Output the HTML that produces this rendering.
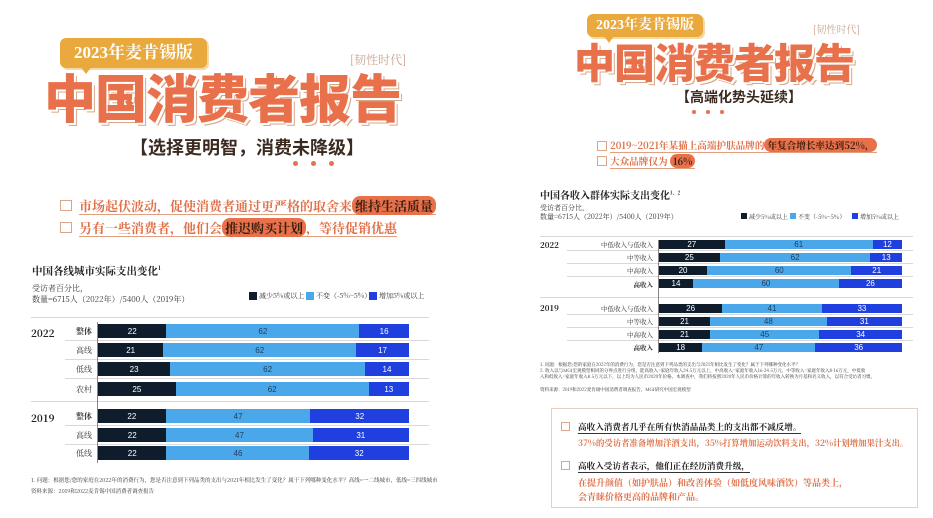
<!DOCTYPE html>
<html><head><meta charset="utf-8"><style>
*{margin:0;padding:0;box-sizing:border-box}
body{width:933px;height:518px;background:#fff;position:relative;overflow:hidden;font-family:"Liberation Sans","Noto Sans CJK SC",sans-serif}
.a{position:absolute;white-space:nowrap}
.badge{background:#e9a93c;color:#fff;font-family:"Liberation Serif","Noto Serif CJK SC",serif;font-weight:bold;border-radius:6px;text-align:center;box-shadow:2px 2px 0 #f3d9a6}
.big{color:#e8704a;font-family:"Noto Sans CJK SC",sans-serif;font-weight:900;text-shadow:2px 2px 0 #fff,3px 3px 0 #d9a688;letter-spacing:-1px}
.tag{color:#c9a491;font-family:"Noto Serif CJK SC",serif}
.sub{color:#3b2a20;font-weight:bold;font-family:"Noto Sans CJK SC",sans-serif}
.dot{position:absolute;width:5px;height:5px;border-radius:50%;background:#e8704a}
.cb{position:absolute;border:1.2px solid #d9a688;background:#fff}
.bul{color:#e07048;font-weight:bold;font-family:"Noto Serif CJK SC",serif;border-bottom:1px solid #e0a080}
.hl{background:#e8704a;color:#3b2010;border-radius:8px;padding:0 3px}
.ct{font-family:"Noto Serif CJK SC",serif;font-weight:bold;color:#222}
.sm{font-family:"Noto Serif CJK SC",serif;color:#333}
.bar{position:absolute;display:flex}
.bar div{display:flex;align-items:center;justify-content:center;font-size:8px}
.d{background:#0f1c2c;color:#fff}.l{background:#4aa8ea;color:#233d5a}.b{background:#1f3fde;color:#fff}
.hr{position:absolute;height:1px;background:#d8d8d8}
.lg{position:absolute;width:8px;height:8px}
</style></head><body>

<!-- LEFT -->
<div class="a badge" style="left:60px;top:38px;width:147px;height:30px;font-size:17px;line-height:30px">2023年麦肯锡版</div>
<div class="a" style="left:80px;top:66px;width:0;height:0;border-left:6px solid transparent;border-right:6px solid transparent;border-top:8px solid #e9a93c"></div>
<div class="a tag" style="left:350px;top:51px;font-size:12px">[韧性时代]</div>
<div class="a big" style="left:44px;top:68px;font-size:52px;line-height:56px">中国消费者报告</div>
<div class="a sub" style="left:130px;top:136px;font-size:18px;line-height:22px">【选择更明智，消费未降级】</div>
<div class="dot" style="left:293px;top:161px"></div><div class="dot" style="left:311px;top:161px"></div><div class="dot" style="left:329px;top:161px"></div>
<div class="cb" style="left:60px;top:200px;width:12px;height:11px"></div>
<div class="a bul" style="left:79px;top:197px;font-size:13px;line-height:17px">市场起伏波动，促使消费者通过更严格的取舍来<span class="hl">维持生活质量</span></div>
<div class="cb" style="left:60px;top:222px;width:12px;height:11px"></div>
<div class="a bul" style="left:79px;top:219px;font-size:13px;line-height:17px">另有一些消费者，他们会<span class="hl">推迟购买计划</span>，等待促销优惠</div>

<div class="a ct" style="left:32px;top:263px;font-size:10.5px">中国各线城市实际支出变化<sup style="font-size:6px">1</sup></div>
<div class="a sm" style="left:32px;top:283px;font-size:8px;line-height:11px">受访者百分比，<br>数量=6715人（2022年）/5400人（2019年）</div>
<div class="lg" style="left:249px;top:292px;background:#0f1c2c"></div><div class="a sm" style="left:259px;top:291px;font-size:7px">减少5%或以上</div>
<div class="lg" style="left:306px;top:292px;background:#4aa8ea"></div><div class="a sm" style="left:316px;top:291px;font-size:7px">不变（-5%~5%）</div>
<div class="lg" style="left:369px;top:292px;background:#1f3fde"></div><div class="a sm" style="left:379px;top:291px;font-size:7px">增加5%或以上</div>
<div class="hr" style="left:31px;top:317px;width:398px"></div>
<div class="hr" style="left:65px;top:340px;width:364px"></div>
<div class="hr" style="left:65px;top:359px;width:364px"></div>
<div class="hr" style="left:65px;top:378px;width:364px"></div>
<div class="hr" style="left:31px;top:401px;width:398px"></div>
<div class="hr" style="left:65px;top:425px;width:364px"></div>
<div class="hr" style="left:65px;top:444px;width:364px"></div>
<div class="a" style="left:97px;top:322px;width:1px;height:141px;background:#888"></div>
<div class="a ct" style="left:31px;top:325px;font-size:10px">2022</div>
<div class="a ct" style="left:31px;top:410px;font-size:10px">2019</div>
<div class="a sm" style="left:72px;top:326px;font-size:8px;width:20px;text-align:right;font-weight:bold">整体</div>
<div class="a sm" style="left:72px;top:345px;font-size:8px;width:20px;text-align:right">高线</div>
<div class="a sm" style="left:72px;top:364px;font-size:8px;width:20px;text-align:right">低线</div>
<div class="a sm" style="left:72px;top:384px;font-size:8px;width:20px;text-align:right">农村</div>
<div class="a sm" style="left:72px;top:411px;font-size:8px;width:20px;text-align:right;font-weight:bold">整体</div>
<div class="a sm" style="left:72px;top:430px;font-size:8px;width:20px;text-align:right">高线</div>
<div class="a sm" style="left:72px;top:448px;font-size:8px;width:20px;text-align:right">低线</div>
<div class="bar" style="left:98px;top:324px;width:311px;height:14px"><div class="d" style="flex:22">22</div><div class="l" style="flex:62">62</div><div class="b" style="flex:16">16</div></div>
<div class="bar" style="left:98px;top:343px;width:311px;height:14px"><div class="d" style="flex:21">21</div><div class="l" style="flex:62">62</div><div class="b" style="flex:17">17</div></div>
<div class="bar" style="left:98px;top:362px;width:311px;height:14px"><div class="d" style="flex:23">23</div><div class="l" style="flex:62">62</div><div class="b" style="flex:14">14</div></div>
<div class="bar" style="left:98px;top:382px;width:311px;height:14px"><div class="d" style="flex:25">25</div><div class="l" style="flex:62">62</div><div class="b" style="flex:13">13</div></div>
<div class="bar" style="left:98px;top:409px;width:311px;height:14px"><div class="d" style="flex:22">22</div><div class="l" style="flex:47">47</div><div class="b" style="flex:32">32</div></div>
<div class="bar" style="left:98px;top:428px;width:311px;height:14px"><div class="d" style="flex:22">22</div><div class="l" style="flex:47">47</div><div class="b" style="flex:31">31</div></div>
<div class="bar" style="left:98px;top:446px;width:311px;height:14px"><div class="d" style="flex:22">22</div><div class="l" style="flex:46">46</div><div class="b" style="flex:32">32</div></div>
<div class="a sm" style="left:31px;top:476px;font-size:5.5px">1. 问题：根据您/您的家庭在2022年的消费行为，您是否注意到下列品类的支出与2021年相比发生了变化？属于下列哪种变化水平？高线=一二线城市，低线=三四线城市</div>
<div class="a sm" style="left:31px;top:487px;font-size:5.5px">资料来源：2019和2022麦肯锡中国消费者调查报告</div>

<!-- RIGHT -->
<div class="a badge" style="left:587px;top:14px;width:116px;height:23px;font-size:14px;line-height:23px">2023年麦肯锡版</div>
<div class="a" style="left:604px;top:36px;width:0;height:0;border-left:5px solid transparent;border-right:5px solid transparent;border-top:7px solid #e9a93c"></div>
<div class="a tag" style="left:813px;top:21px;font-size:10px">[韧性时代]</div>
<div class="a big" style="left:574px;top:37px;font-size:41px;line-height:46px">中国消费者报告</div>
<div class="a sub" style="left:676px;top:88px;font-size:14px;line-height:18px">【高端化势头延续】</div>
<div class="dot" style="left:692px;top:110px;width:4px;height:4px"></div><div class="dot" style="left:706px;top:110px;width:4px;height:4px"></div><div class="dot" style="left:720px;top:110px;width:4px;height:4px"></div>
<div class="cb" style="left:597px;top:141px;width:10px;height:10px"></div>
<div class="a bul" style="left:610px;top:138px;font-size:9.6px;line-height:14px">2019~2021年某猫上高端护肤品牌的<span class="hl">年复合增长率达到52%，</span></div>
<div class="cb" style="left:597px;top:156px;width:10px;height:10px"></div>
<div class="a bul" style="left:610px;top:154px;font-size:9.6px;line-height:14px">大众品牌仅为 <span class="hl">16%</span></div>

<div class="a ct" style="left:540px;top:187px;font-size:10px">中国各收入群体实际支出变化<sup style="font-size:5px">1、2</sup></div>
<div class="a sm" style="left:540px;top:204px;font-size:7px;line-height:9px">受访者百分比，<br>数量=6715人（2022年）/5400人（2019年）</div>
<div class="lg" style="left:741px;top:213px;width:6px;height:6px;background:#0f1c2c"></div><div class="a sm" style="left:749px;top:212px;font-size:6px">减少5%或以上</div>
<div class="lg" style="left:790px;top:213px;width:6px;height:6px;background:#4aa8ea"></div><div class="a sm" style="left:798px;top:212px;font-size:6px">不变（-5%~5%）</div>
<div class="lg" style="left:852px;top:213px;width:6px;height:6px;background:#1f3fde"></div><div class="a sm" style="left:860px;top:212px;font-size:6px">增加5%或以上</div>
<div class="hr" style="left:540px;top:236px;width:373px"></div>
<div class="hr" style="left:567px;top:250px;width:346px"></div>
<div class="hr" style="left:567px;top:263px;width:346px"></div>
<div class="hr" style="left:567px;top:276px;width:346px"></div>
<div class="hr" style="left:540px;top:297px;width:373px"></div>
<div class="hr" style="left:567px;top:314px;width:346px"></div>
<div class="hr" style="left:567px;top:327px;width:346px"></div>
<div class="hr" style="left:567px;top:340px;width:346px"></div>
<div class="a" style="left:658px;top:240px;width:1px;height:113px;background:#888"></div>
<div class="a ct" style="left:540px;top:240px;font-size:8px">2022</div>
<div class="a ct" style="left:540px;top:303px;font-size:8px">2019</div>
<div class="a sm" style="left:593px;top:240px;width:60px;text-align:right;font-size:6.5px">中低收入与低收入</div>
<div class="a sm" style="left:593px;top:253px;width:60px;text-align:right;font-size:6.5px">中等收入</div>
<div class="a sm" style="left:593px;top:266px;width:60px;text-align:right;font-size:6.5px">中高收入</div>
<div class="a sm" style="left:593px;top:280px;width:60px;text-align:right;font-size:6.5px;font-weight:bold">高收入</div>
<div class="a sm" style="left:593px;top:304px;width:60px;text-align:right;font-size:6.5px">中低收入与低收入</div>
<div class="a sm" style="left:593px;top:317px;width:60px;text-align:right;font-size:6.5px">中等收入</div>
<div class="a sm" style="left:593px;top:330px;width:60px;text-align:right;font-size:6.5px">中高收入</div>
<div class="a sm" style="left:593px;top:343px;width:60px;text-align:right;font-size:6.5px;font-weight:bold">高收入</div>
<div class="bar" style="left:659px;top:240px;width:243px;height:9px"><div class="d" style="flex:27">27</div><div class="l" style="flex:61">61</div><div class="b" style="flex:12">12</div></div>
<div class="bar" style="left:659px;top:253px;width:243px;height:9px"><div class="d" style="flex:25">25</div><div class="l" style="flex:62">62</div><div class="b" style="flex:13">13</div></div>
<div class="bar" style="left:659px;top:266px;width:243px;height:9px"><div class="d" style="flex:20">20</div><div class="l" style="flex:60">60</div><div class="b" style="flex:21">21</div></div>
<div class="bar" style="left:659px;top:279px;width:243px;height:9px"><div class="d" style="flex:14">14</div><div class="l" style="flex:60">60</div><div class="b" style="flex:26">26</div></div>
<div class="bar" style="left:659px;top:304px;width:243px;height:9px"><div class="d" style="flex:26">26</div><div class="l" style="flex:41">41</div><div class="b" style="flex:33">33</div></div>
<div class="bar" style="left:659px;top:317px;width:243px;height:9px"><div class="d" style="flex:21">21</div><div class="l" style="flex:48">48</div><div class="b" style="flex:31">31</div></div>
<div class="bar" style="left:659px;top:330px;width:243px;height:9px"><div class="d" style="flex:21">21</div><div class="l" style="flex:45">45</div><div class="b" style="flex:34">34</div></div>
<div class="bar" style="left:659px;top:343px;width:243px;height:9px"><div class="d" style="flex:18">18</div><div class="l" style="flex:47">47</div><div class="b" style="flex:36">36</div></div>
<div class="a sm" style="left:540px;top:362px;font-size:4.5px;line-height:6px">1. 问题：根据您/您的家庭在2022年的消费行为，您是否注意到下列品类的支出与2021年相比发生了变化？属于下列哪种变化水平？<br>2. 收入以与MGI宏观模型相同的分界点进行分组，能高收入=家庭年收入34.5万元以上，中高收入=家庭年收入16-34.5万元，中等收入=家庭年收入8-16万元，中低收<br>入和低收入=家庭年收入8.5万元以下，以上均为人民币2020年价格。本调查中，我们将按照2020年人民币价格计算的年收入转换为月基和名义收入，以符合受访者习惯。</div>
<div class="a sm" style="left:540px;top:387px;font-size:4.5px">资料来源：2019和2022麦肯锡中国消费者调查报告，MGI研究中国宏观模型</div>

<div class="a" style="left:551px;top:408px;width:367px;height:100px;border:1.5px solid #e6d0c2"></div>
<div class="cb" style="left:561px;top:422px;width:9px;height:9px"></div>
<div class="a" style="left:578px;top:421px;font-size:8.6px;font-weight:bold;color:#222;font-family:'Noto Serif CJK SC',serif;border-bottom:1px solid #333;line-height:12px">高收入消费者几乎在所有快消品品类上的支出都不减反增。</div>
<div class="a" style="left:578px;top:437px;font-size:8.4px;font-weight:bold;color:#e07048;font-family:'Noto Serif CJK SC',serif">37%的受访者准备增加洋酒支出，35%打算增加运动饮料支出，32%计划增加果汁支出。</div>
<div class="cb" style="left:561px;top:461px;width:9px;height:9px"></div>
<div class="a" style="left:578px;top:460px;font-size:8.6px;font-weight:bold;color:#222;font-family:'Noto Serif CJK SC',serif;border-bottom:1px solid #333;line-height:12px">高收入受访者表示，他们正在经历消费升级，</div>
<div class="a" style="left:578px;top:476px;font-size:9px;font-weight:bold;color:#e07048;font-family:'Noto Serif CJK SC',serif">在提升颜值（如护肤品）和改善体验（如低度风味酒饮）等品类上，</div>
<div class="a" style="left:578px;top:490px;font-size:9px;font-weight:bold;color:#e07048;font-family:'Noto Serif CJK SC',serif">会青睐价格更高的品牌和产品。</div>
</body></html>
